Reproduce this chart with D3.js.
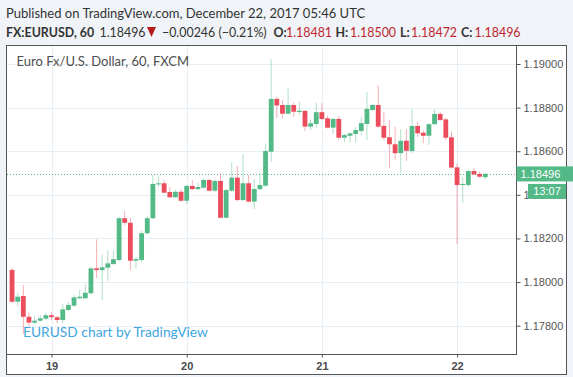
<!DOCTYPE html>
<html>
<head>
<meta charset="utf-8">
<script src="https://cdn.jsdelivr.net/npm/d3@7"></script>
<style>
html, body { margin: 0; padding: 0; background: #f0f3f7; }
svg { display: block; }
</style>
</head>
<body>
<svg id="chart" width="573" height="377"></svg>
<script>
// EURUSD hourly bars, first bar Dec 18 17:00 UTC
const startTime = Date.UTC(2017, 11, 18, 17);

const opens = [
    1.18056, 1.17910, 1.17936, 1.17841, 1.17814, 1.17823, 1.17832, 1.17848, 1.17839, 1.17826,
    1.17872, 1.17892, 1.17926, 1.17926, 1.17949, 1.18063, 1.18055, 1.18066, 1.18083, 1.18101,
    1.18293, 1.18272, 1.18098, 1.18101, 1.18224, 1.18293, 1.18448, 1.18453, 1.18413, 1.18389,
    1.18414, 1.18373, 1.18441, 1.18426, 1.18433, 1.18468, 1.18419, 1.18464, 1.18295, 1.18419,
    1.18479, 1.18376, 1.18453, 1.18369, 1.18426, 1.18442, 1.18598, 1.18840, 1.18812, 1.18772,
    1.18812, 1.18780, 1.18785, 1.18713, 1.18725, 1.18779, 1.18751, 1.18708, 1.18748, 1.18662,
    1.18671, 1.18679, 1.18693, 1.18725, 1.18789, 1.18812, 1.18716, 1.18664, 1.18632, 1.18591,
    1.18648, 1.18601, 1.18716, 1.18685, 1.18671, 1.18724, 1.18771, 1.18746, 1.18664, 1.18526,
    1.18445, 1.18445, 1.18509, 1.18496, 1.18481
];
const highs = [
    1.18065, 1.17951, 1.17987, 1.17860, 1.17845, 1.17849, 1.17860, 1.17864, 1.17845, 1.17900,
    1.17910, 1.17941, 1.17964, 1.17990, 1.18071, 1.18196, 1.18127, 1.18147, 1.18147, 1.18300,
    1.18326, 1.18294, 1.18115, 1.18234, 1.18303, 1.18491, 1.18483, 1.18468, 1.18437, 1.18422,
    1.18427, 1.18445, 1.18468, 1.18456, 1.18477, 1.18475, 1.18468, 1.18499, 1.18427, 1.18549,
    1.18532, 1.18586, 1.18491, 1.18473, 1.18500, 1.18636, 1.19022, 1.18850, 1.18835, 1.18893,
    1.18824, 1.18827, 1.18789, 1.18746, 1.18824, 1.18820, 1.18762, 1.18752, 1.18762, 1.18679,
    1.18686, 1.18713, 1.18758, 1.18870, 1.18817, 1.18901, 1.18779, 1.18743, 1.18713, 1.18701,
    1.18701, 1.18794, 1.18734, 1.18697, 1.18729, 1.18792, 1.18781, 1.18752, 1.18690, 1.18542,
    1.18481, 1.18514, 1.18522, 1.18507, 1.18500
];
const lows = [
    1.17904, 1.17890, 1.17762, 1.17799, 1.17808, 1.17817, 1.17826, 1.17826, 1.17811, 1.17812,
    1.17868, 1.17886, 1.17923, 1.17920, 1.17943, 1.18019, 1.17918, 1.18006, 1.18078, 1.18094,
    1.18262, 1.18055, 1.18060, 1.18092, 1.18216, 1.18289, 1.18436, 1.18406, 1.18386, 1.18386,
    1.18367, 1.18358, 1.18422, 1.18422, 1.18429, 1.18415, 1.18413, 1.18292, 1.18292, 1.18413,
    1.18372, 1.18372, 1.18365, 1.18335, 1.18422, 1.18436, 1.18552, 1.18752, 1.18751, 1.18768,
    1.18758, 1.18766, 1.18693, 1.18697, 1.18705, 1.18743, 1.18704, 1.18682, 1.18652, 1.18641,
    1.18641, 1.18641, 1.18674, 1.18652, 1.18785, 1.18707, 1.18652, 1.18522, 1.18560, 1.18502,
    1.18555, 1.18592, 1.18665, 1.18636, 1.18629, 1.18720, 1.18739, 1.18652, 1.18521, 1.18175,
    1.18364, 1.18437, 1.18491, 1.18480, 1.18472
];
const closes = [
    1.17910, 1.17933, 1.17841, 1.17814, 1.17823, 1.17834, 1.17848, 1.17839, 1.17826, 1.17875,
    1.17895, 1.17930, 1.17933, 1.17951, 1.18063, 1.18055, 1.18068, 1.18086, 1.18105, 1.18293,
    1.18272, 1.18098, 1.18105, 1.18224, 1.18293, 1.18450, 1.18453, 1.18410, 1.18389, 1.18414,
    1.18373, 1.18441, 1.18426, 1.18436, 1.18468, 1.18419, 1.18464, 1.18295, 1.18422, 1.18479,
    1.18376, 1.18453, 1.18369, 1.18427, 1.18445, 1.18601, 1.18840, 1.18810, 1.18772, 1.18812,
    1.18781, 1.18786, 1.18713, 1.18728, 1.18779, 1.18748, 1.18708, 1.18748, 1.18662, 1.18674,
    1.18682, 1.18697, 1.18729, 1.18794, 1.18812, 1.18713, 1.18662, 1.18632, 1.18591, 1.18648,
    1.18602, 1.18716, 1.18682, 1.18671, 1.18724, 1.18771, 1.18743, 1.18662, 1.18525, 1.18445,
    1.18450, 1.18509, 1.18494, 1.18483, 1.18496
];

const priceTicks = [1.178, 1.180, 1.182, 1.184, 1.186, 1.188, 1.190];
const dayTicks = [Date.UTC(2017, 11, 19), Date.UTC(2017, 11, 20), Date.UTC(2017, 11, 21), Date.UTC(2017, 11, 22)];
const dayLabels = ["19", "20", "21", "22"];
const lastPrice = 1.18496;
const countdown = "13:07";

const bars = opens.map((o, i) => ({
    t: startTime + i * 3600e3,
    o: o, h: highs[i], l: lows[i], c: closes[i]
}));

const svg = d3.select('#chart');
const frame = { left: 6.5, top: 45.5, right: 566.5, bottom: 374.5 };
const plot = { left: 7, top: 46, right: 516.5, bottom: 354.5 };

const green = "#53b987", red = "#eb4d5c";
const hour = 3600e3;
const pxPerHour = 5.633;
const day19x = 51.5;

// scales
const x = d3.scaleUtc()
    .domain([dayTicks[0] - (day19x - plot.left) / pxPerHour * hour,
             dayTicks[0] + (plot.right - day19x) / pxPerHour * hour])
    .range([plot.left, plot.right]);

const y = d3.scaleLinear()
    .domain([1.178, 1.190])
    .range([325.7, 64]);

// white panel inside the frame
svg.append("rect")
    .attr("x", frame.left).attr("y", frame.top)
    .attr("width", frame.right - frame.left).attr("height", frame.bottom - frame.top)
    .attr("fill", "#fff");

// grid
svg.append("g")
    .attr("stroke", "#e8eef5")
    .attr("shape-rendering", "crispEdges")
    .selectAll("line.h").data(priceTicks).enter().append("line")
        .attr("x1", plot.left).attr("x2", plot.right)
        .attr("y1", d => Math.round(y(d)) + 0.5).attr("y2", d => Math.round(y(d)) + 0.5);

svg.append("g")
    .attr("stroke", "#e8eef5")
    .attr("shape-rendering", "crispEdges")
    .selectAll("line.v").data(dayTicks).enter().append("line")
        .attr("x1", d => Math.round(x(d)) + 0.5).attr("x2", d => Math.round(x(d)) + 0.5)
        .attr("y1", plot.top).attr("y2", plot.bottom);

// symbol title + watermark
svg.append("text")
    .attr("x", 16.5).attr("y", 66)
    .attr("fill", "#4e4e4e")
    .style("font", "13px Lato, sans-serif")
    .text("Euro Fx/U.S. Dollar, 60, FXCM");

svg.append("text")
    .attr("x", 23).attr("y", 337)
    .attr("fill", "#3ea6e0")
    .style("font", "13.8px Lato, sans-serif")
    .text("EURUSD chart by TradingView");

// last price line
svg.append("line")
    .attr("x1", plot.left).attr("x2", plot.right)
    .attr("y1", Math.round(y(lastPrice)) + 0.5).attr("y2", Math.round(y(lastPrice)) + 0.5)
    .attr("stroke", green)
    .attr("stroke-dasharray", "1,2");

// candles
const candles = svg.append("g")
    .selectAll("g").data(bars).enter().append("g");

candles.append("line")
    .attr("x1", d => x(d.t)).attr("x2", d => x(d.t))
    .attr("y1", d => y(d.h)).attr("y2", d => y(d.l))
    .attr("stroke", d => d.c >= d.o ? green : red)
    .attr("stroke-opacity", 0.45)
    .attr("stroke-width", 1);

candles.append("rect")
    .attr("x", d => x(d.t) - 2.4)
    .attr("width", 4.8)
    .attr("y", d => y(Math.max(d.o, d.c)))
    .attr("height", d => Math.max(1, Math.abs(y(d.o) - y(d.c))))
    .attr("fill", d => d.c >= d.o ? green : red);

// axes
const yAxis = g => g
    .attr("transform", `translate(${plot.right},0)`)
    .call(d3.axisRight(y).tickValues(priceTicks).tickFormat(d3.format(".5f")).tickSize(4).tickPadding(3))
    .call(g => g.select(".domain").remove())
    .call(g => g.selectAll("line").attr("stroke", "#555"))
    .call(g => g.selectAll("text").attr("fill", "#555").style("font", "11px 'Liberation Sans', Arial, sans-serif"));

const xAxis = g => g
    .attr("transform", `translate(0,${plot.bottom})`)
    .call(d3.axisBottom(x).tickValues(dayTicks).tickFormat((d, i) => dayLabels[i]).tickSize(3).tickPadding(5))
    .call(g => g.select(".domain").remove())
    .call(g => g.selectAll("line").attr("stroke", "#555"))
    .call(g => g.selectAll("text").attr("fill", "#4a4a4a").style("font", "bold 11px 'Liberation Sans', Arial, sans-serif"));

svg.append("g").call(yAxis);
svg.append("g").call(xAxis);

// axis lines and frame
svg.append("g")
    .attr("stroke", "#555")
    .attr("shape-rendering", "crispEdges")
    .call(g => g.append("line").attr("x1", plot.right).attr("x2", plot.right).attr("y1", frame.top).attr("y2", plot.bottom))
    .call(g => g.append("line").attr("x1", frame.left).attr("x2", plot.right).attr("y1", plot.bottom).attr("y2", plot.bottom));

svg.append("rect")
    .attr("x", frame.left).attr("y", frame.top)
    .attr("width", frame.right - frame.left).attr("height", frame.bottom - frame.top)
    .attr("fill", "none")
    .attr("stroke", "#555");

// last price tag + countdown
const ly = y(lastPrice);
svg.append("rect")
    .attr("x", plot.right).attr("y", ly - 7.5)
    .attr("width", 573 - plot.right).attr("height", 15)
    .attr("fill", green);
svg.append("text")
    .attr("x", plot.right + 4).attr("y", ly + 4)
    .attr("fill", "#fff")
    .style("font", "11px 'Liberation Sans', Arial, sans-serif")
    .text(d3.format(".5f")(lastPrice));

svg.append("rect")
    .attr("x", 528).attr("y", ly + 10)
    .attr("width", 38).attr("height", 15)
    .attr("fill", green);
svg.append("text")
    .attr("x", 547).attr("y", ly + 21.5)
    .attr("text-anchor", "middle")
    .attr("fill", "#fff")
    .style("font", "11px 'Liberation Sans', Arial, sans-serif")
    .text(countdown);

// header
svg.append("text")
    .attr("x", 6).attr("y", 18)
    .attr("fill", "#333")
    .style("font", "13px Lato, sans-serif")
    .text("Published on TradingView.com, December 22, 2017 05:46 UTC");

const hfont = "12.4px Lato, sans-serif";
const header = [
    { x: 6, text: "FX:EURUSD, 60", bold: true, color: "#333" },
    { x: 99.5, text: "1.18496", bold: false, color: "#333" },
    { x: 162, text: "\u22120.00246 (\u22120.21%)", bold: false, color: "#333" },
    { x: 273.5, text: "O:", bold: true, color: "#333" },
    { x: 286, text: "1.18481", bold: false, color: red },
    { x: 335.5, text: "H:", bold: true, color: "#333" },
    { x: 350, text: "1.18500", bold: false, color: red },
    { x: 400, text: "L:", bold: true, color: "#333" },
    { x: 411, text: "1.18472", bold: false, color: red },
    { x: 461, text: "C:", bold: true, color: "#333" },
    { x: 474.5, text: "1.18496", bold: false, color: red }
];
svg.append("g").selectAll("text").data(header).enter().append("text")
    .attr("x", d => d.x).attr("y", 36.5)
    .attr("fill", d => d.color === red ? "#c0262d" : d.color)
    .style("font", d => (d.bold ? "bold " : "") + hfont)
    .text(d => d.text);

svg.append("path")
    .attr("d", "M147,27L156,27L151.5,37Z")
    .attr("fill", "#b71c1c");
</script>
</body>
</html>
